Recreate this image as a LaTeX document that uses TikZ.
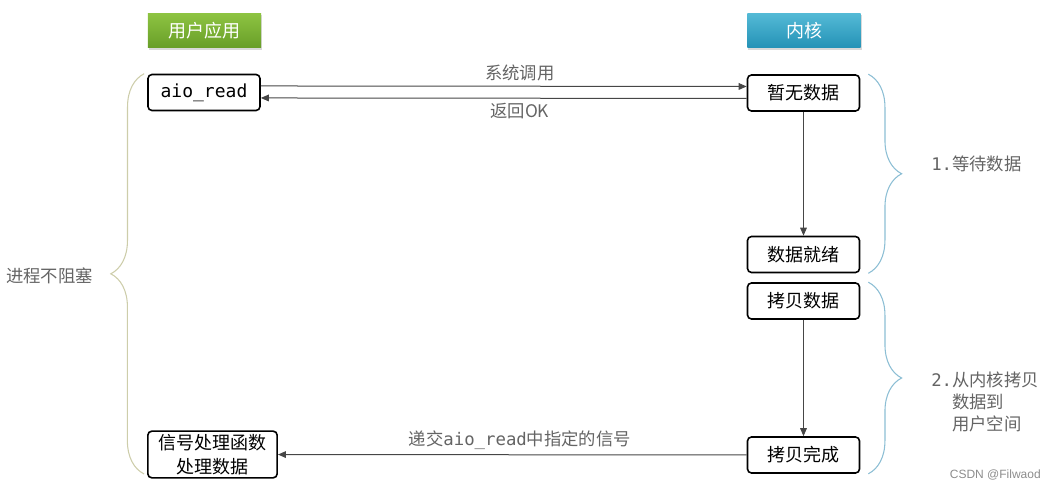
\documentclass[tikz,border=0pt]{standalone}
\usepackage{fontspec}
\setmainfont{Noto Sans CJK SC}
\setmonofont{DejaVu Sans Mono}
\newfontfamily\wmfont{Liberation Sans}
\usetikzlibrary{arrows.meta,decorations.pathreplacing,shadows}
\definecolor{txtgray}{RGB}{100,100,100}
\definecolor{linegray}{RGB}{70,70,70}
\definecolor{bracel}{RGB}{205,205,170}
\definecolor{bracer}{RGB}{140,190,212}
\definecolor{greentop}{RGB}{142,196,66}
\definecolor{greenbot}{RGB}{104,158,40}
\definecolor{bluetop}{RGB}{84,186,214}
\definecolor{bluebot}{RGB}{36,146,182}
\tikzset{
  box/.style={draw=black, line width=1.2pt, rounded corners=3pt, fill=white,
    minimum width=84pt, minimum height=27pt, inner sep=2pt,
    font=\fontsize{13.5}{18}\selectfont},
  head/.style={minimum width=85pt, minimum height=26pt, text=white,
    font=\fontsize{13.5}{15}\selectfont,
    drop shadow={opacity=0.3, shadow xshift=0.8pt, shadow yshift=-1.5pt}},
  lbl/.style={text=txtgray, font=\fontsize{13}{16.5}\selectfont},
  arr/.style={draw=linegray, line width=0.75pt, -{Triangle[length=6pt,width=5pt]}},
  brcl/.style={draw=bracel, line width=0.8pt, decorate,
    decoration={brace, amplitude=25pt, mirror}},
  brcr/.style={draw=bracer, line width=0.8pt, decorate,
    decoration={brace, amplitude=25pt}}
}

\begin{document}
\begin{tikzpicture}[x=0.75pt,y=0.75pt,yscale=-1,xscale=1]
\useasboundingbox (0,0) rectangle (1057,491);
% headers
\draw (204.5,30.5) node [head, top color=greentop, bottom color=greenbot] (app) {用户应用};
\draw (804,30.5) node [head, top color=bluetop, bottom color=bluebot] (kern) {内核};
% user side
\draw (204,92.5) node [box] (aio) {\ttfamily aio\_read};
\draw (212.5,454.5) node [box, minimum width=97pt, minimum height=35pt, align=center] (sig) {信号处理函数\\处理数据};
% kernel side
\draw (803.5,93) node [box] (nodata) {暂无数据};
\draw (803.5,254.5) node [box] (ready) {数据就绪};
\draw (803.5,301) node [box] (copy) {拷贝数据};
\draw (803.5,455) node [box] (done) {拷贝完成};
% connectors
\draw [arr] ([yshift=-4.9pt]aio.east) -- node [lbl, above, pos=0.533] (call) {系统调用} ([yshift=-4.9pt]nodata.west);
\draw [arr] ([yshift=4.1pt]nodata.west) -- node [lbl, below, pos=0.467] (ret) {返回OK} ([yshift=4.1pt]aio.east);
\draw [arr] (nodata) -- (ready);
\draw [arr] (copy) -- (done);
\draw [arr] (done) -- node [lbl, above, pos=0.484] (deliver) {递交{\ttfamily aio\_read}中指定的信号} (sig);
% braces
\draw [brcl] ([xshift=-2.25pt]aio.north west) -- ([xshift=-2.25pt,yshift=-3.5pt]sig.south west);
\draw [brcr] ([xshift=6pt]nodata.north east) -- ([xshift=6pt]ready.south east);
\draw [brcr] ([xshift=6pt]copy.north east) -- ([xshift=6pt]done.south east);
\draw (6,276) node [lbl, anchor=west, inner sep=0pt] (noblock) {进程不阻塞};
\draw (931,164) node [lbl, anchor=west, inner sep=0pt] (wait) {{\ttfamily 1.}等待数据};
\draw (931,402) node [lbl, anchor=west, inner sep=0pt, align=left] (copyto) {{\ttfamily 2.}从内核拷贝\\{\ttfamily\hphantom{2.}}数据到\\{\ttfamily\hphantom{2.}}用户空间};
\draw (1041,475) node [anchor=east, inner sep=0pt, text=black!45, font=\wmfont\fontsize{9}{11}\selectfont] (mark) {CSDN @Filwaod};
\end{tikzpicture}
\end{document}
